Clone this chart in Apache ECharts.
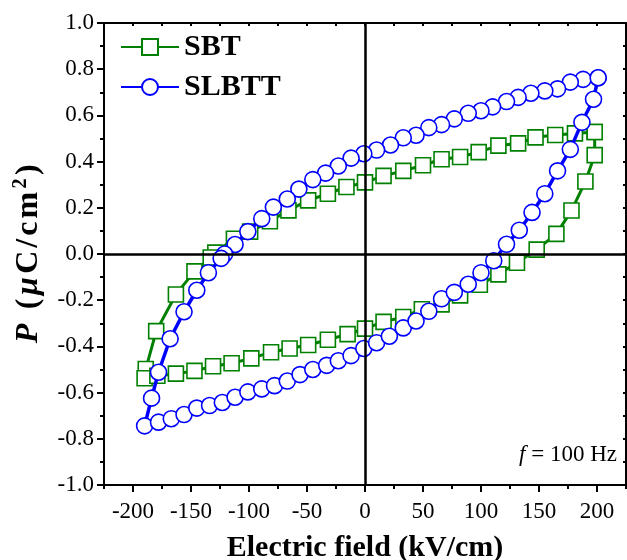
<!DOCTYPE html>
<html>
<head>
<meta charset="utf-8">
<script src="https://cdn.jsdelivr.net/npm/echarts@6/dist/echarts.min.js"></script>
<style>
html,body{margin:0;padding:0;background:#fff;}
#chart{width:627px;height:560px;}
</style>
</head>
<body>
<div id="chart"></div>
<script>
// ---- data (E in kV/cm, P in uC/cm^2) ----
const seriesNames = ['SBT', 'SLBTT'];

const sbtE = [198, 181, 164, 147, 132, 115, 98, 82, 66, 50, 33, 16, 0, -16, -32, -49, -66, -82, -99, -113, -129, -133, -147, -163, -180, -189, -190,
  -179, -163, -147, -131, -115, -98, -81, -65, -49, -32, -15, 0, 16, 33, 49, 66, 82, 99, 115, 131, 148, 165, 178, 190, 198, 198];
const sbtP = [0.528, 0.522, 0.515, 0.505, 0.479, 0.469, 0.441, 0.420, 0.410, 0.384, 0.360, 0.338, 0.310, 0.290, 0.261, 0.232, 0.189, 0.142, 0.097, 0.066, 0.006, -0.015, -0.075, -0.175, -0.334, -0.498, -0.538,
  -0.527, -0.518, -0.506, -0.486, -0.473, -0.452, -0.425, -0.409, -0.394, -0.371, -0.347, -0.323, -0.294, -0.273, -0.239, -0.218, -0.179, -0.133, -0.088, -0.038, 0.019, 0.087, 0.188, 0.314, 0.428, 0.528];

const slbttE = [201, 188, 177, 166, 155, 143, 132, 122, 110, 100, 89, 77, 66, 55, 44, 33, 22, 10, -1, -12, -23, -34, -45, -57, -67, -79, -89, -101, -112, -121, -124, -135, -145, -156, -168, -178, -184, -190,
  -178, -167, -156, -145, -134, -123, -112, -101, -89, -78, -67, -56, -45, -33, -23, -12, -1, 10, 21, 33, 44, 55, 66, 77, 89, 100, 111, 122, 133, 144, 155, 166, 177, 187, 197, 201];
const slbttP = [0.763, 0.756, 0.744, 0.715, 0.706, 0.696, 0.678, 0.660, 0.637, 0.620, 0.609, 0.585, 0.560, 0.547, 0.514, 0.503, 0.472, 0.450, 0.434, 0.415, 0.381, 0.350, 0.322, 0.281, 0.238, 0.203, 0.153, 0.097, 0.041, 0.000, -0.019, -0.081, -0.157, -0.250, -0.367, -0.512, -0.624, -0.744,
  -0.728, -0.713, -0.695, -0.667, -0.656, -0.643, -0.620, -0.597, -0.584, -0.570, -0.550, -0.522, -0.500, -0.482, -0.462, -0.440, -0.409, -0.384, -0.356, -0.320, -0.290, -0.248, -0.194, -0.166, -0.131, -0.081, -0.029, 0.042, 0.103, 0.180, 0.261, 0.360, 0.453, 0.570, 0.670, 0.763];

const xTickLabels = [-200, -150, -100, -50, 0, 50, 100, 150, 200];
const xMin = -225, xMax = 225;
const yMin = -1.0, yMax = 1.0;

const xTitle = 'Electric field (kV/cm)';
const yTitle = '{i|P}{n| }{n|(}{i|μ}{n|C}{n|/}{n|c}{n|m}{s|2}{n|)}';
const annotation = '{i|f} = 100 Hz';

// ---- build ----
const zip = (a, b) => a.map((v, i) => [v, b[i]]);
const FONT = "'Liberation Serif','Times New Roman',serif";

const chart = echarts.init(document.getElementById('chart'), null, {renderer: 'canvas'});

const axisLineStyle = {show: true, onZero: false, lineStyle: {color: '#000', width: 2}};

const option = {
  backgroundColor: '#fff',
  animation: false,
  grid: {left: 104, right: 1, top: 23, bottom: 75, containLabel: false, outerBoundsMode: 'none'},
  legend: {
    data: seriesNames,
    orient: 'vertical',
    left: 115,
    top: 27,
    padding: 5,
    itemWidth: 58,
    itemHeight: 20,
    itemGap: 10,
    textStyle: {fontFamily: FONT, fontSize: 30, fontWeight: 'bold', color: '#000'}
  },
  xAxis: [
    {
      type: 'value', position: 'bottom', min: xMin, max: xMax, interval: 25,
      axisLine: axisLineStyle,
      axisTick: {show: true, inside: false, length: 7, lineStyle: {color: '#000', width: 2}, customValues: xTickLabels},
      axisLabel: {show: true, customValues: xTickLabels, margin: 15, color: '#000', fontFamily: FONT, fontSize: 23},
      splitLine: {show: false},
      name: xTitle, nameLocation: 'middle', nameGap: 48,
      nameTextStyle: {fontFamily: FONT, fontSize: 30, fontWeight: 'bold', color: '#000'}
    },
    {
      type: 'value', position: 'bottom', min: xMin, max: xMax, interval: 25,
      axisLine: {show: false, onZero: false},
      axisTick: {show: true, inside: false, length: 4, lineStyle: {color: '#000', width: 2}},
      axisLabel: {show: false}, splitLine: {show: false}
    },
    {
      type: 'value', position: 'top', min: xMin, max: xMax, interval: 25,
      axisLine: axisLineStyle,
      axisTick: {show: true, inside: true, length: 3, lineStyle: {color: '#000', width: 2}},
      axisLabel: {show: false}, splitLine: {show: false}
    }
  ],
  yAxis: [
    {
      type: 'value', position: 'left', min: yMin, max: yMax, interval: 0.2,
      axisLine: axisLineStyle,
      axisTick: {show: true, inside: false, length: 7, lineStyle: {color: '#000', width: 2}},
      minorTick: {show: true, splitNumber: 2, length: 4, lineStyle: {color: '#000', width: 2}},
      axisLabel: {show: true, margin: 10, color: '#000', fontFamily: FONT, fontSize: 23,
        formatter: v => v.toFixed(1)},
      splitLine: {show: false},
      name: yTitle, nameLocation: 'middle', nameGap: 56, nameRotate: 90,
      nameTextStyle: {fontFamily: FONT, fontSize: 32, fontWeight: 'bold', color: '#000', lineHeight: 36,
        rich: {
          i: {fontFamily: FONT, fontSize: 32, fontWeight: 'bold', fontStyle: 'italic', color: '#000', lineHeight: 36, padding: [0, 2, 0, 2]},
          n: {fontFamily: FONT, fontSize: 32, fontWeight: 'bold', color: '#000', lineHeight: 36, padding: [0, 1.5, 0, 1.5]},
          s: {fontFamily: FONT, fontSize: 20, fontWeight: 'bold', color: '#000', verticalAlign: 'top', lineHeight: 36, padding: [0, 2, 0, 2]}
        }}
    },
    {
      type: 'value', position: 'right', min: yMin, max: yMax, interval: 0.2,
      axisLine: axisLineStyle,
      axisTick: {show: true, inside: true, length: 3, lineStyle: {color: '#000', width: 2}},
      minorTick: {show: true, splitNumber: 2, length: 3, lineStyle: {color: '#000', width: 2}},
      axisLabel: {show: false}, splitLine: {show: false}
    }
  ],
  series: [
    {
      name: 'SBT', type: 'line', xAxisIndex: 0, yAxisIndex: 0,
      data: zip(sbtE, sbtP),
      symbol: 'rect', symbolSize: 15, showAllSymbol: true,
      lineStyle: {color: '#008000', width: 3},
      itemStyle: {color: '#ffffff', borderColor: '#008000', borderWidth: 1.6},
      z: 2
    },
    {
      name: 'SLBTT', type: 'line', xAxisIndex: 0, yAxisIndex: 0,
      data: zip(slbttE, slbttP),
      symbol: 'circle', symbolSize: 16, showAllSymbol: true,
      lineStyle: {color: '#0000ff', width: 3.5},
      itemStyle: {color: '#ffffff', borderColor: '#0000ff', borderWidth: 1.6},
      z: 3
    },
    {
      name: 'zero', type: 'line', data: [], xAxisIndex: 0, yAxisIndex: 0, z: 10,
      markLine: {
        silent: true, symbol: 'none', animation: false,
        label: {show: false},
        lineStyle: {color: '#000', width: 2.5, type: 'solid'},
        data: [{xAxis: 0}, {yAxis: 0}]
      }
    }
  ],
  graphic: [
    {
      type: 'text', right: 10, top: 443, z: 20,
      style: {
        text: annotation, fontFamily: FONT, fontSize: 23, fill: '#000',
        rich: {i: {fontFamily: FONT, fontSize: 23, fontStyle: 'italic', fill: '#000'}}
      }
    }
  ]
};
chart.setOption(option);
</script>
</body>
</html>
